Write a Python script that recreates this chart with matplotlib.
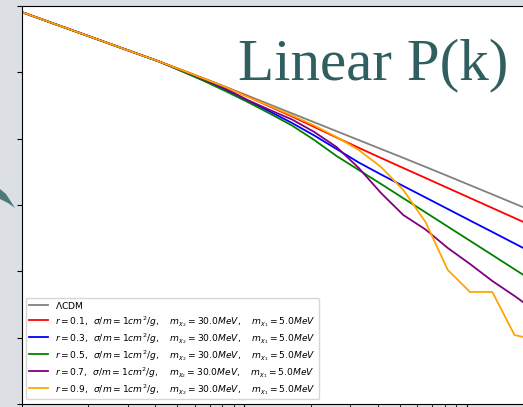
import numpy as np
import matplotlib
matplotlib.use("Agg")
import matplotlib.pyplot as plt
from matplotlib.patches import Polygon
from matplotlib.ticker import FixedLocator, NullLocator

# wavenumbers (h/Mpc) shared by all curves
k = [0.1, 0.1306, 0.1644, 0.2069, 0.2605, 0.3279, 0.4128, 0.5197, 0.6543, 0.8237,
     1.037, 1.306, 1.644, 2.069, 2.605, 3.279, 4.128, 5.197, 6.543, 8.237,
     10.37, 13.06, 16.44, 20.69]

# linear power spectra
P_lcdm = [6590, 3460, 1990, 1138, 653, 375, 215, 120, 66.5, 36.6,
          19.9, 10.7, 5.78, 3.12, 1.68, 0.906, 0.489, 0.264, 0.141, 0.0750,
          0.0396, 0.0209, 0.0110, 0.00582]
P_r01 = [6590, 3460, 1990, 1138, 653, 375, 215, 120, 66.5, 36.1,
         18.7, 9.33, 4.67, 2.25, 1.086, 0.531, 0.262, 0.1306, 0.0653, 0.0326,
         0.0163, 0.00813, 0.00406, 0.00203]
P_r03 = [6590, 3460, 1990, 1138, 653, 375, 215, 113.5, 58.7, 30.4,
         14.2, 6.59, 2.97, 1.247, 0.489, 0.1914, 0.0832, 0.0374, 0.01686, 0.00759,
         0.00341, 0.00154, 0.000692, 0.000311]
P_r05 = [6590, 3460, 1990, 1138, 653, 375, 215, 111.2, 56.8, 27.4,
         12.8, 5.74, 2.49, 0.912, 0.3006, 0.1138, 0.0431, 0.01607, 0.0060, 0.002234,
         0.000834, 0.000311, 0.0001153, 0.0000431]
P_r07 = [6590, 3460, 1990, 1138, 653, 375, 215, 117.7, 63.0, 32.6,
         14.66, 7.33, 3.78, 1.589, 0.561, 0.1306, 0.0230, 0.00500, 0.001828, 0.000506,
         0.0001667, 0.0000512, 0.0000181, 0.00000596]
P_r09 = [6590, 3460, 1990, 1138, 653, 375, 215, 120, 66.1, 36.1,
         18.3, 9.66, 5.00, 2.49, 1.124, 0.456, 0.140, 0.0284, 0.00308, 0.000110,
         0.0000239, 0.0000239, 0.00000120, 0.000000853]

r_values = [0.1, 0.3, 0.5, 0.7, 0.9]
colors = ["red", "blue", "green", "purple", "orange"]

fig = plt.figure(figsize=(5.23, 4.07), dpi=100, facecolor="#dcdfe3")

# little teal stroke of the slide decoration on the left edge
W, H = 523.0, 407.0
deco = [(0, 189), (6, 194), (15, 208), (8, 203), (0, 199)]
fig.patches.append(Polygon([(x / W, 1 - y / H) for x, y in deco], closed=True,
                           transform=fig.transFigure, facecolor="#3d6e6c",
                           edgecolor="none", alpha=0.9))

ax = fig.add_axes([21.5 / W, 3 / H, 667.5 / W, 398 / H])
ax.set_xscale("log")
ax.set_yscale("log")

ax.plot(k, P_lcdm, color="grey", lw=1.3, label=r"$\Lambda$CDM")
for r, P, c in zip(r_values, [P_r01, P_r03, P_r05, P_r07, P_r09], colors):
    lab = (r"$r = %.1f$,  $\sigma/m = 1cm^2/g$,    $m_{\chi_2} = 30.0MeV$,    "
           r"$m_{\chi_1} = 5.0MeV$" % r)
    ax.plot(k, P, color=c, lw=1.3, label=lab)

ax.set_xlim(0.1, 100)
ax.set_ylim(1e-8, 1e4)
ax.yaxis.set_major_locator(FixedLocator([1e-8, 1e-6, 1e-4, 1e-2, 1e0, 1e2, 1e4]))
ax.yaxis.set_minor_locator(NullLocator())
ax.tick_params(labelleft=False, labelbottom=False)

ax.legend(loc="lower left", fontsize=6.6, handleheight=1.6, labelspacing=0.25,
          borderpad=0.3, handlelength=2.1)

fig.text(238 / W, 1 - 79 / H, "Linear P(k)", family="Liberation Serif",
         fontsize=42.5, color="#2f5f5e", ha="left", va="baseline")

fig.savefig("out.png", dpi=100, facecolor=fig.get_facecolor())
